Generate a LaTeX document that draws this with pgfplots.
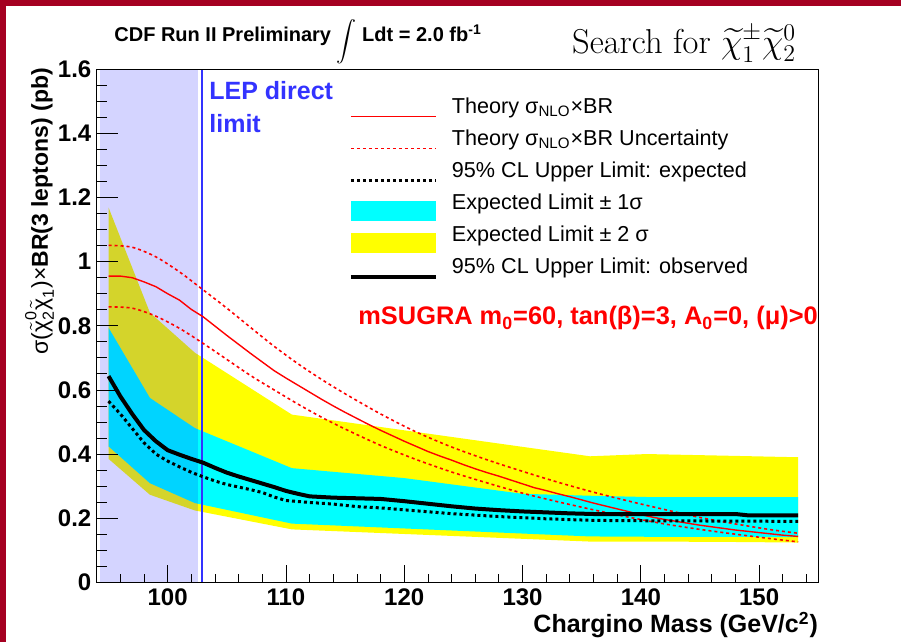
\documentclass[border=0pt]{standalone}
\usepackage{amsmath}
\usepackage{fontspec}
\setmainfont{Liberation Sans}
\usepackage{pgfplots}
\pgfplotsset{compat=1.18}
\definecolor{borderred}{RGB}{165,0,33}
\definecolor{lepblue}{RGB}{51,51,255}
\definecolor{bandcyan}{RGB}{0,255,255}
\definecolor{bandyellow}{RGB}{255,255,0}
\definecolor{thred}{RGB}{255,0,0}
\newcommand{\chit}[2]{$\tilde{\text{χ}}^{\text{#1}}_{\text{#2}}$}
\newcommand{\lsub}[1]{$_{\text{#1}}$}
\begin{document}
\begin{tikzpicture}
\path[use as bounding box] (0pt,0pt) rectangle (450.5pt,321pt);
\fill[white] (0pt,0pt) rectangle (450.5pt,321pt);
\fill[borderred] (0pt,0pt) rectangle (3pt,321pt);
\fill[borderred] (0pt,318pt) rectangle (450.5pt,321pt);
\begin{axis}[
  at={(48.35pt,29.85pt)}, anchor=south west,
  scale only axis, width=360.8pt, height=256.5pt,
  xmin=94, xmax=155, ymin=0, ymax=1.6,
  xtick={100,110,120,130,140,150},
  ytick={0,0.2,0.4,0.6,0.8,1,1.2,1.4,1.6},
  minor xtick={96,98,102,104,106,108,112,114,116,118,122,124,126,128,132,134,136,138,142,144,146,148,152,154},
  minor ytick={0.05,0.1,0.15,0.25,0.3,0.35,0.45,0.5,0.55,0.65,0.7,0.75,0.85,0.9,0.95,1.05,1.1,1.15,1.25,1.3,1.35,1.45,1.5,1.55},
  tick align=inside, tick pos=left,
  xtick style={/pgfplots/major tick length=8.5pt,/pgfplots/minor tick length=4pt,black,line width=0.4pt},
  ytick style={/pgfplots/major tick length=10.8pt,/pgfplots/minor tick length=5pt,black,line width=0.4pt},
  axis line style={line width=0.5pt},
  axis on top,
  /pgf/number format/assume math mode=true,
  ticklabel style={font=\fontsize{12}{14}\selectfont\bfseries},
  xticklabel style={inner sep=0pt, yshift=-2.85pt},
  yticklabel style={inner sep=0pt, xshift=-2.5pt},
  xlabel={\bfseries Chargino Mass (GeV/c\textsuperscript{2})},
  xlabel style={at={(axis description cs:1,0)}, anchor=base east, inner sep=0pt, yshift=-25.35pt, font=\fontsize{12.5}{15}\selectfont},
  ylabel={{\mdseries σ(\chit{0}{2}\chit{}{1})×}\textbf{BR(3 leptons) (pb)}},
  ylabel style={at={(axis description cs:-0.0675,1.003)}, anchor=base east, inner sep=0pt, font=\fontsize{11.5}{14}\selectfont\bfseries},
  legend style={draw=none, fill=none, at={(0.3496,0.7663)}, anchor=west,
    inner sep=0pt, outer sep=0pt, row sep=0pt,
    nodes={inner sep=0pt, text height=7.5pt, text depth=3pt, font=\fontsize{10.8}{13}\selectfont},
    /tikz/every odd column/.append style={column sep=7pt}},
  legend cell align=left,
  legend image code/.code={\path[draw=none,fill=none] (0pt,-8pt) rectangle (42.5pt,8pt); \draw[#1] (0pt,-3.75pt) -- (42.5pt,-3.75pt);},
]
\addlegendimage{thred, solid, line width=0.7pt}
\addlegendentry{Theory σ\lsub{NLO}×BR}
\addlegendimage{thred, line width=0.8pt, dash pattern=on 1.5pt off 1.5pt}
\addlegendentry{Theory σ\lsub{NLO}×BR Uncertainty}
\addlegendimage{black, line width=1.5pt, dash pattern=on 1.5pt off 1.5pt}
\addlegendentry{95\% CL Upper Limit: expected}
\addlegendimage{legend image code/.code={\path[draw=none,fill=none] (0pt,-8pt) rectangle (42.5pt,8pt); \fill[bandcyan,draw=none] (0pt,-8pt) rectangle (42.5pt,2pt);}}
\addlegendentry{Expected Limit ± 1σ}
\addlegendimage{legend image code/.code={\path[draw=none,fill=none] (0pt,-8pt) rectangle (42.5pt,8pt); \fill[bandyellow,draw=none] (0pt,-8pt) rectangle (42.5pt,2pt);}}
\addlegendentry{Expected Limit ± 2 σ}
\addlegendimage{black, solid, line width=2pt}
\addlegendentry{95\% CL Upper Limit: observed}

% +-2 sigma band
\addplot[fill=bandyellow, draw=none, forget plot] coordinates {
(95,1.169) (98.5,0.841) (102.3,0.716) (110.5,0.523) (135.7,0.393) (140.5,0.400) (147,0.395) (153.3,0.390)
(153.3,0.124) (147,0.126) (140.5,0.127) (135.7,0.127) (110.5,0.165) (102.3,0.224) (98.5,0.273) (95,0.385)
} -- cycle;
% +-1 sigma band
\addplot[fill=bandcyan, draw=none, forget plot] coordinates {
(95,0.794) (98.5,0.575) (102.3,0.481) (110.5,0.356) (120,0.325) (130,0.276) (135.7,0.270) (140.5,0.266) (153.3,0.266)
(153.3,0.141) (140.5,0.142) (135.7,0.143) (110.5,0.183) (102.3,0.247) (98.5,0.309) (95,0.424)
} -- cycle;
% LEP excluded region
\addplot[fill=blue, fill opacity=0.17, draw=none, forget plot] coordinates {
(94.3,0) (102.6,0) (102.6,1.6) (94.3,1.6)
} -- cycle;
\addplot[lepblue, line width=0.7pt, forget plot] coordinates {(102.9,0) (102.9,1.6)};
% theory uncertainty
\addplot[thred, line width=0.8pt, dash pattern=on 1.5pt off 1.5pt, smooth, forget plot] coordinates {
(95,1.051) (97,1.045) (99,1.015) (101,0.968) (103,0.912) (105,0.855) (107,0.795) (109,0.736) (111,0.682) (113,0.633) (115,0.588) (118,0.525) (121,0.469) (124,0.422) (127,0.382) (130,0.346) (133,0.312) (136,0.281) (139,0.253) (142,0.227) (145,0.202) (148,0.182) (151,0.164) (153.3,0.153)
};
\addplot[thred, line width=0.8pt, dash pattern=on 1.5pt off 1.5pt, smooth, forget plot] coordinates {
(95,0.859) (97,0.855) (99,0.830) (101,0.792) (103,0.745) (105,0.695) (107,0.645) (109,0.600) (111,0.556) (113,0.515) (115,0.478) (118,0.427) (121,0.383) (124,0.344) (127,0.310) (130,0.278) (133,0.251) (136,0.226) (139,0.203) (142,0.182) (145,0.165) (148,0.150) (151,0.136) (153.3,0.126)
};
% theory
\addplot[thred, line width=0.7pt, forget plot] coordinates {
(95,0.955) (96,0.955) (97,0.950) (98,0.937) (99,0.922) (100,0.900) (101,0.880) (102,0.851) (103,0.828) (104,0.799) (105,0.770) (106,0.742) (107,0.714) (108,0.687) (109,0.660) (110,0.637) (111,0.615) (112,0.593) (113,0.571) (114,0.550) (115,0.530) (116,0.511) (117,0.492) (118,0.474) (119,0.457) (120,0.440) (121,0.424) (122,0.408) (123,0.394) (124,0.381) (125,0.367) (126,0.354) (127,0.342) (128,0.331) (129,0.319) (130,0.307) (131,0.295) (132,0.286) (133,0.276) (134,0.267) (135,0.257) (136,0.247) (137,0.238) (138,0.229) (139,0.220) (140,0.211) (141,0.203) (142,0.196) (143,0.190) (144,0.184) (145,0.178) (146,0.173) (147,0.168) (148,0.163) (149,0.159) (150,0.155) (151,0.151) (152,0.147) (153.3,0.143)
};
% expected
\addplot[black, line width=1.5pt, dash pattern=on 1.5pt off 1.5pt, forget plot] coordinates {
(95,0.565) (96,0.525) (97,0.480) (98,0.435) (99,0.400) (100,0.378) (101,0.360) (102,0.343) (103,0.329) (104,0.316) (105,0.305) (106,0.297) (107,0.289) (108,0.280) (109,0.266) (110,0.255) (112,0.249) (114,0.244) (116,0.236) (118,0.232) (120,0.226) (124,0.214) (128,0.205) (132,0.198) (136,0.193) (140,0.192) (153.3,0.190)
};
% observed
\addplot[black, line width=2pt, forget plot] coordinates {
(95,0.643) (96,0.580) (97,0.525) (98,0.475) (99,0.440) (100,0.412) (101,0.398) (102,0.385) (103,0.373) (104,0.357) (105,0.342) (106,0.330) (107,0.319) (108,0.308) (109,0.297) (110,0.285) (111,0.276) (112,0.268) (114,0.264) (116,0.262) (118,0.260) (120,0.253) (122,0.245) (124,0.237) (126,0.230) (128,0.225) (130,0.221) (132,0.218) (134,0.215) (136,0.213) (140,0.213) (144,0.213) (148,0.213) (149,0.209) (153.3,0.209)
};
\end{axis}
\node[anchor=base west, inner sep=0pt, font=\fontsize{10}{12}\selectfont\bfseries] at (57pt,300.15pt) {CDF Run II Preliminary \raisebox{-2.5pt}{$\displaystyle\int$} Ldt = 2.0 fb\textsuperscript{-1}};
\node[anchor=base west, inner sep=0pt, font=\fontfamily{lmr}\fontsize{17.28}{20}\selectfont] at (285.85pt,294.35pt) {Search for $\widetilde{\chi}^{\pm}_{1}\widetilde{\chi}^{0}_{2}$};
\node[anchor=base west, inner sep=0pt, text=lepblue, font=\fontsize{12.5}{15}\selectfont\bfseries] at (104.5pt,271pt) {LEP direct};
\node[anchor=base west, inner sep=0pt, text=lepblue, font=\fontsize{12.5}{15}\selectfont\bfseries] at (104.5pt,254.5pt) {limit};
\node[anchor=base west, inner sep=0pt, text=thred, font=\fontsize{12.7}{15}\selectfont\bfseries] at (179pt,158.5pt) {mSUGRA m\lsub{0}=60, tan(β)=3, A\lsub{0}=0, (μ)>0};
\end{tikzpicture}
\end{document}
